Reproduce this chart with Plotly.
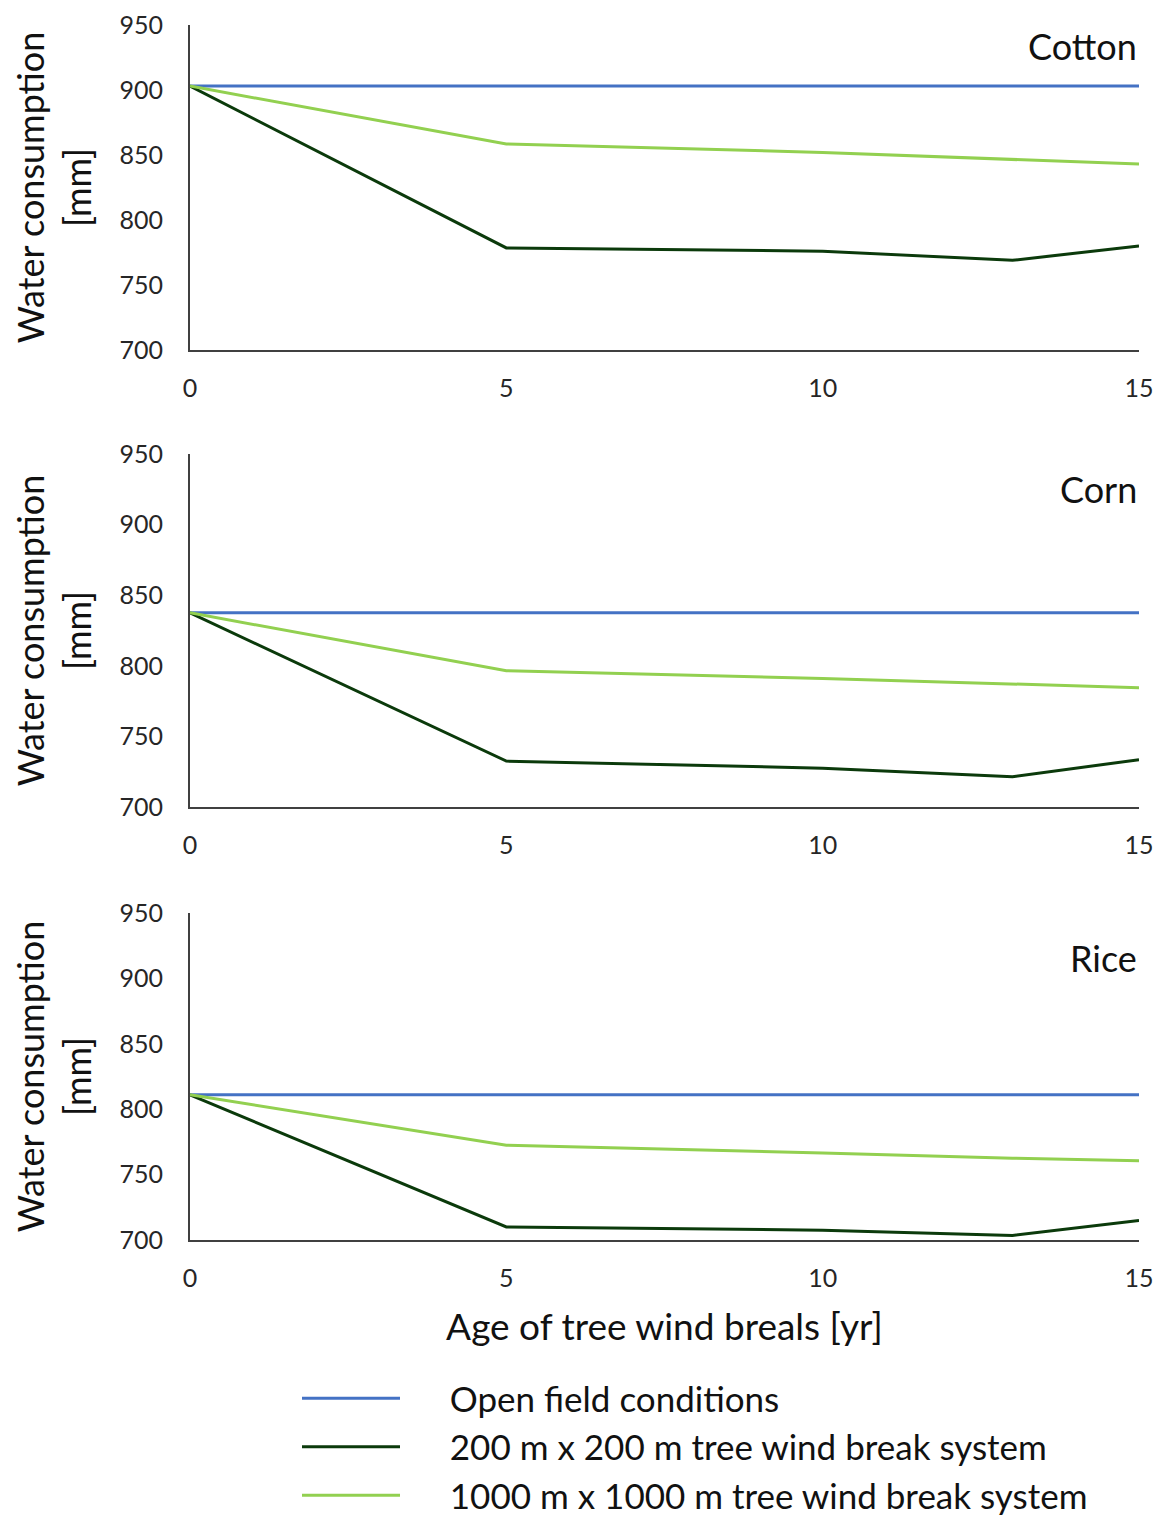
import plotly.graph_objects as go

years = [0, 5, 10, 13, 15]
crops = ["Cotton", "Corn", "Rice"]

open_field = {
    "Cotton": [903, 903, 903, 903, 903],
    "Corn": [837.5, 837.5, 837.5, 837.5, 837.5],
    "Rice": [811, 811, 811, 811, 811],
}
wb_200 = {
    "Cotton": [903, 778.5, 776, 769, 780],
    "Corn": [837.5, 732.5, 727.5, 721.5, 733.5],
    "Rice": [811, 710, 707.5, 703.5, 715],
}
wb_1000 = {
    "Cotton": [903, 858.5, 852, 846.5, 843],
    "Corn": [837.5, 796.5, 791, 787, 784.5],
    "Rice": [811, 772.5, 766.5, 762.5, 760.5],
}

series_names = ["Open field conditions",
                "200 m x 200 m tree wind break system",
                "1000 m x 1000 m tree wind break system"]
colors = ["#4472C4", "#0B3A0B", "#92D050"]

y_ticks = [700, 750, 800, 850, 900, 950]
x_ticks = [0, 5, 10, 15]

FONT = "Lato"
W, H = 1153, 1509
OFF = 8  # page body margin


def px_x(p):
    return (p - OFF) / W


def px_y(p):
    return 1 - (p - OFF) / H


fig = go.Figure()

x_dom = [px_x(190), px_x(1139)]
y_doms = [
    [px_y(350), px_y(25)],
    [px_y(807), px_y(454)],
    [px_y(1240), px_y(913)],
]
title_y = [0.935, 0.90, 0.862]

PAD = "\u00a0" * 5

for i, crop in enumerate(crops):
    xa = "x" if i == 0 else f"x{i+1}"
    ya = "y" if i == 0 else f"y{i+1}"
    for j, data in enumerate([open_field, wb_200, wb_1000]):
        fig.add_trace(go.Scatter(
            x=years, y=data[crop], mode="lines",
            line=dict(color=colors[j], width=3),
            name=PAD + series_names[j], showlegend=(i == 0),
            xaxis=xa, yaxis=ya,
        ))
    xkey = "xaxis" if i == 0 else f"xaxis{i+1}"
    ykey = "yaxis" if i == 0 else f"yaxis{i+1}"
    fig.update_layout(**{
        xkey: dict(
            domain=x_dom, anchor=ya, range=[0, 15],
            tickvals=x_ticks, showgrid=False, zeroline=False,
            showline=True, linecolor="#404040", linewidth=2,
            ticks="", ticklabelstandoff=15, ticklabeloverflow="allow",
            tickfont=dict(family=FONT, size=25, color="#262626"),
            title=dict(text="Age of tree wind breals [yr]" if i == 2 else "",
                       font=dict(family=FONT, size=37, color="#111111"),
                       standoff=23),
        ),
        ykey: dict(
            domain=y_doms[i], anchor=xa, range=[700, 950],
            tickvals=y_ticks, showgrid=False, zeroline=False,
            showline=True, linecolor="#404040", linewidth=2,
            ticks="", ticklabelstandoff=20, ticklabeloverflow="allow",
            tickfont=dict(family=FONT, size=25, color="#262626"),
            title=dict(text="Water consumption<br>[mm]",
                       font=dict(family=FONT, size=36, color="#111111"),
                       standoff=20),
        ),
    })
    fig.add_annotation(
        text=crop, xref=f"{xa} domain", yref=f"{ya} domain",
        x=1.0, y=title_y[i], xanchor="right", yanchor="middle",
        showarrow=False, font=dict(family=FONT, size=36, color="#111111"),
    )

fig.update_layout(
    width=W, height=H,
    margin=dict(l=0, r=0, t=0, b=0, autoexpand=False),
    paper_bgcolor="white", plot_bgcolor="white",
    showlegend=True,
    legend=dict(
        x=(297 - OFF) / W, y=px_y(1369), xanchor="left", yanchor="top",
        font=dict(family=FONT, size=35, color="#111111"),
        itemwidth=98, tracegroupgap=0, bgcolor="rgba(0,0,0,0)",
    ),
)

fig.write_html("out.html")
